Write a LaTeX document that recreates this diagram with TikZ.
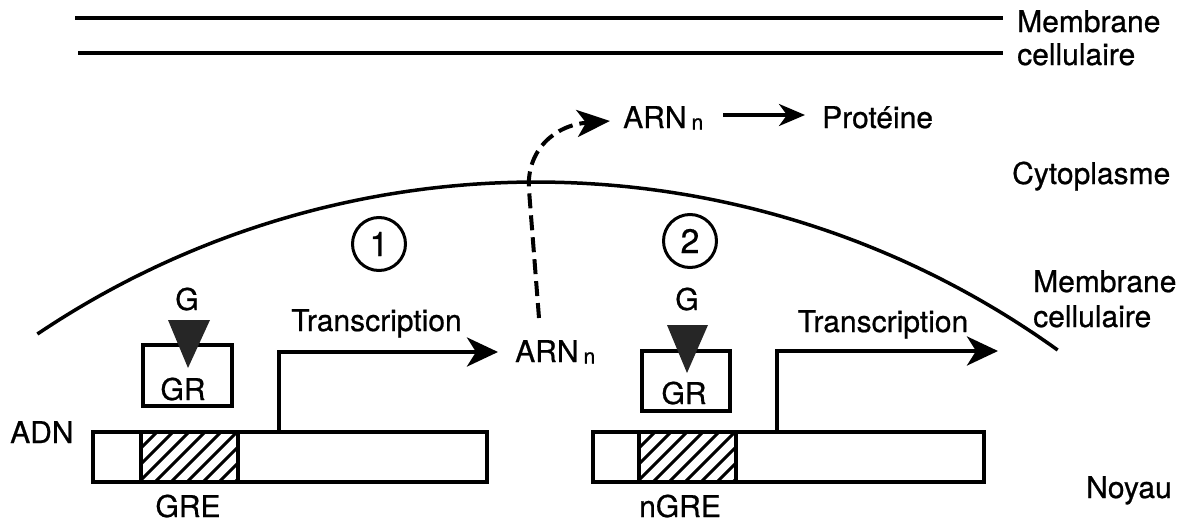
\documentclass[tikz,border=0pt]{standalone}
\usepackage{fontspec}
\setmainfont[FakeBold=0.7]{TeX Gyre Heros}
\usetikzlibrary{arrows.meta}
\newcommand\arnsub{\,\raisebox{-1.5pt}{\fontsize{21}{21}\selectfont n}}
\begin{document}
\begin{tikzpicture}[x=1pt,y=-1pt,
  lbl/.style={inner sep=0pt, font=\fontsize{30}{30}\selectfont, anchor=base west},
  lblc/.style={inner sep=0pt, font=\fontsize{30}{30}\selectfont, anchor=base},
  memline/.style={line width=4.5pt},
  arcline/.style={line width=3.5pt},
  arr/.style={line width=4pt, -{Stealth[length=31pt,width=29pt,inset=9pt]}},
  smallarr/.style={line width=3.5pt, -{Stealth[length=26pt,width=22pt,inset=8pt]}},
  dasharr/.style={line width=4pt, dash pattern=on 15pt off 7pt, -{Stealth[length=33pt,width=27pt,inset=9pt]}},
  circ/.style={draw, circle, line width=3pt, minimum size=53pt, inner sep=0pt, font=\fontsize{34}{34}\selectfont},
  grbox/.style={draw, rectangle, line width=4pt, inner sep=0pt},
  bar/.style={draw, rectangle, line width=4.5pt, inner sep=0pt, minimum height=50pt},
  barline/.style={line width=4.5pt},
  hatch/.style={line width=3pt},
  tri/.style={fill=black!85}
]
\useasboundingbox (0,0) rectangle (1191,522);

% cell membrane (top)
\node[lbl] (mem1) at (1017,32) {Membrane};
\node[lbl] (cel1) at (1017,65) {cellulaire};
\coordinate (m1a) at (75,18);
\coordinate (m1b) at (1003,18);
\coordinate (m2a) at (78,53);
\coordinate (m2b) at (1003,53);
\draw[memline] (m1a) -- (m1b);
\draw[memline] (m2a) -- (m2b);

% right-side labels
\node[lbl] (cyto) at (1012,184) {Cytoplasme};
\node[lbl] (mem2) at (1033,292) {Membrane};
\node[lbl] (cel2) at (1033,327) {cellulaire};
\node[lbl] (noyau) at (1086,498) {Noyau};
\node[lbl] (adn) at (10,443) {ADN};

% nuclear envelope arc
\draw[arcline] plot[domain=-123.9:-54.3, samples=120] ({536+894*cos(\x)},{1076+894*sin(\x)});

% circled numbers
\node[circ] (c1) at (379,244) {1};
\node[circ] (c2) at (690,241) {2};

% top: ARNn -> Proteine
\node[lbl] (arnT) at (623,128) {ARN\arnsub};
\node[lbl] (prot) at (822,128) {Protéine};
\coordinate (pa) at (723,115);
\coordinate (pb) at (805,115);
\draw[smallarr] (pa) -- (pb);

% lower ARNn and dashed export arrow
\node[lbl] (arnL) at (515,362) {ARN\arnsub};
\coordinate (d0) at (539,318);
\coordinate (d1) at (529,190);
\coordinate (d2) at (610,121);
\draw[dasharr] (d0) -- (d1) .. controls (526,150) and (555,125) .. (d2);

% ---------- left block ----------
\node[lblc] (gL) at (187,310) {G};
\node[grbox, minimum width=89pt, minimum height=61pt] (grL) at (187.5,375.5) {};
\node[lblc] (grtL) at (183,400) {GR};
\fill[tri] (168,320) -- (210,320) -- (188,368) -- cycle;

\begin{scope}
  \clip (141,432) rectangle (238,482);
  \foreach \i in {0,...,10} \draw[hatch] ({91+16*\i},482) -- ++(50,-50);
\end{scope}
\node[bar, minimum width=394pt] (barL) at (290,457) {};
\draw[barline] (141,432) -- (141,482);
\draw[barline] (238,432) -- (238,482);
\node[lblc] (gre) at (188,517) {GRE};

\coordinate (tL0) at (279,432);
\coordinate (tL1) at (498,352);
\draw[arr] (tL0) |- (tL1);
\node[lblc] (trL) at (376.5,331) {Transcription};

% ---------- right block ----------
\node[lblc] (gR) at (687,310) {G};
\node[grbox, minimum width=88pt, minimum height=60pt] (grR) at (686,381) {};
\node[lblc] (grtR) at (684,404) {GR};
\fill[tri] (667,325) -- (708,325) -- (687,373) -- cycle;

\begin{scope}
  \clip (639,432) rectangle (736,482);
  \foreach \i in {0,...,10} \draw[hatch] ({589+16*\i},482) -- ++(50,-50);
\end{scope}
\node[bar, minimum width=391pt] (barR) at (788.5,457) {};
\draw[barline] (639,432) -- (639,482);
\draw[barline] (736,432) -- (736,482);
\node[lblc] (ngre) at (680,517) {nGRE};

\coordinate (tR0) at (777,432);
\coordinate (tR1) at (998,351);
\draw[arr] (tR0) |- (tR1);
\node[lblc] (trR) at (883,332) {Transcription};
\end{tikzpicture}
\end{document}
